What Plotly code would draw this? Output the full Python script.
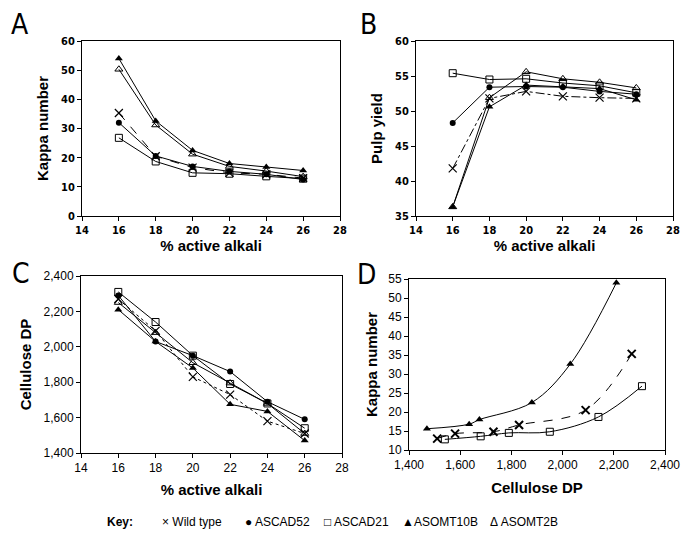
import plotly.graph_objects as go

# ---- data ----
alkali = [16, 18, 20, 22, 24, 26]
series = ["Wild type", "ASCAD52", "ASCAD21", "ASOMT10B", "ASOMT2B"]

kappa_wt = [35.3, 20.5, 16.6, 14.8, 14.3, 13.0]
kappa_cad52 = [32.0, 20.6, 17.0, 15.3, 14.3, 12.5]
kappa_cad21 = [26.8, 18.7, 14.8, 14.5, 13.6, 12.8]
kappa_omt10b = [54.0, 32.6, 22.5, 18.0, 16.8, 15.6]
kappa_omt2b = [50.3, 31.2, 21.2, 17.0, 15.4, 13.5]

yield_wt = [41.8, 51.8, 52.8, 52.1, 51.9, 51.8]
yield_cad52 = [48.3, 53.4, 53.5, 53.4, 52.8, 52.4]
yield_cad21 = [55.4, 54.5, 54.6, 54.0, 53.6, 52.6]
yield_omt10b = [36.3, 50.6, 53.7, 53.5, 53.2, 51.6]
yield_omt2b = [36.3, 51.9, 55.6, 54.6, 54.1, 53.3]

dp_wt = [2270, 2090, 1830, 1730, 1580, 1510]
dp_cad52 = [2290, 2030, 1950, 1860, 1690, 1590]
dp_cad21 = [2310, 2140, 1950, 1790, 1680, 1540]
dp_omt10b = [2210, 2030, 1880, 1675, 1635, 1470]
dp_omt2b = [2250, 2080, 1910, 1795, 1680, 1510]

kappa = {"Wild type": kappa_wt, "ASCAD52": kappa_cad52, "ASCAD21": kappa_cad21,
         "ASOMT10B": kappa_omt10b, "ASOMT2B": kappa_omt2b}
pulp = {"Wild type": yield_wt, "ASCAD52": yield_cad52, "ASCAD21": yield_cad21,
        "ASOMT10B": yield_omt10b, "ASOMT2B": yield_omt2b}
dp = {"Wild type": dp_wt, "ASCAD52": dp_cad52, "ASCAD21": dp_cad21,
      "ASOMT10B": dp_omt10b, "ASOMT2B": dp_omt2b}

legend_labels = ["× Wild type", "● ASCAD52", "□ ASCAD21", "▲ASOMT10B", "Δ ASOMT2B"]

# ---- styles ----
marker = {
    "Wild type": dict(symbol="x-thin", size=8, line=dict(width=1.2, color="black"), color="black"),
    "ASCAD52": dict(symbol="circle", size=6, color="black"),
    "ASCAD21": dict(symbol="square-open", size=7, color="black", line=dict(width=1)),
    "ASOMT10B": dict(symbol="triangle-up", size=7, color="black"),
    "ASOMT2B": dict(symbol="triangle-up-open", size=7, color="black", line=dict(width=1)),
}
W, H = 684, 533

fig = go.Figure()

def add(xs, ys, name, xa, ya, dash="solid", shape="linear", mk=None):
    fig.add_trace(go.Scatter(
        x=xs, y=ys, mode="lines+markers", name=name, showlegend=False,
        line=dict(color="black", width=1, dash=dash, shape=shape),
        marker=mk or marker[name], xaxis=xa, yaxis=ya))

for s in series:
    add(alkali, kappa[s], s, "x", "y", "dash" if s == "Wild type" else "solid")
    add(alkali, pulp[s], s, "x2", "y2", "dashdot" if s == "Wild type" else "solid")
    add(alkali, dp[s], s, "x3", "y3", "dot" if s == "Wild type" else "solid")
for s in ["ASOMT10B", "Wild type", "ASCAD21"]:
    mk = None
    if s == "Wild type":
        mk = dict(symbol="x-thin", size=8, line=dict(width=2, color="black"), color="black")
    add(dp[s], kappa[s], s, "x4", "y4", "dash" if s == "Wild type" else "solid", "spline", mk)

def dom(x0, x1, y0, y1):
    return [x0 / W, x1 / W], [1 - y1 / H, 1 - y0 / H]

boldtick = dict(family="DejaVu Sans Condensed, Liberation Sans Narrow, Arial", size=11, color="black", weight="bold")
regtick = dict(family="Liberation Sans, Arial", size=12, color="black")
titlefont = dict(family="Liberation Sans, Arial", size=15, color="black", weight="bold")

common = dict(showline=True, mirror=True, linecolor="black", linewidth=1, ticks="outside",
              ticklen=4, tickcolor="black", showgrid=False, zeroline=False, automargin=False,
              ticklabeloverflow="allow")

xa, ya = dom(82, 340, 41, 216)
xb, yb = dom(416, 673, 41, 216)
xc, yc = dom(81, 342, 276, 453)
xd, yd = dom(409, 665, 279, 450)

fig.update_layout(
    template="none",
    width=W, height=H, margin=dict(l=0, r=0, t=0, b=0, autoexpand=False),
    paper_bgcolor="white", plot_bgcolor="white",
    xaxis=dict(domain=xa, range=[14, 28], dtick=2, tickfont=boldtick, anchor="y",
               title=dict(text="% active alkali", font=titlefont, standoff=0), **common),
    yaxis=dict(domain=ya, range=[0, 60], dtick=10, tickfont=boldtick, anchor="x",
               title=dict(text="Kappa number", font=titlefont, standoff=8), **common),
    xaxis2=dict(domain=xb, range=[14, 28], dtick=2, tickfont=boldtick, anchor="y2",
                title=dict(text="% active alkali", font=titlefont, standoff=0), **common),
    yaxis2=dict(domain=yb, range=[35, 60], dtick=5, tickfont=boldtick, anchor="x2",
                title=dict(text="Pulp yield", font=titlefont, standoff=8), **common),
    xaxis3=dict(domain=xc, range=[14, 28], dtick=2, tickfont=regtick, anchor="y3",
                title=dict(text="% active alkali", font=titlefont, standoff=10), **common),
    yaxis3=dict(domain=yc, range=[1400, 2400], dtick=200, tickformat=",", tickfont=regtick, anchor="x3",
                title=dict(text="Cellulose DP", font=titlefont, standoff=8), **common),
    xaxis4=dict(domain=xd, range=[1400, 2400], dtick=200, tickformat=",", tickfont=regtick, anchor="y4",
                title=dict(text="Cellulose DP", font=titlefont, standoff=11), **common),
    yaxis4=dict(domain=yd, range=[10, 55], dtick=5, tickfont=regtick, anchor="x4",
                title=dict(text="Kappa number", font=titlefont, standoff=6), **common),
)

letter_font = dict(family="DejaVu Sans Condensed, Liberation Sans Narrow, Arial", size=28, color="black")
for txt, x, y in [("A", 20, 25), ("B", 368, 25), ("C", 21, 273), ("D", 366, 274)]:
    fig.add_annotation(text=txt, x=x / W, y=1 - y / H, xref="paper", yref="paper",
                       showarrow=False, font=letter_font, xanchor="center", yanchor="middle")

legend_font = dict(family="Liberation Sans, Arial", size=12, color="black")
fig.add_annotation(text="<b>Key:</b>", x=105 / W, y=1 - 522 / H, xref="paper", yref="paper",
                   showarrow=False, font=legend_font, xanchor="left", yanchor="middle")
for txt, x in zip(legend_labels, [160, 243, 322, 400, 488]):
    fig.add_annotation(text=txt, x=x / W, y=1 - 522 / H, xref="paper", yref="paper",
                       showarrow=False, font=legend_font, xanchor="left", yanchor="middle")

fig.write_html("out.html", config={"displayModeBar": False},
               post_script="document.body.style.margin='0';document.body.style.overflow='hidden';")
